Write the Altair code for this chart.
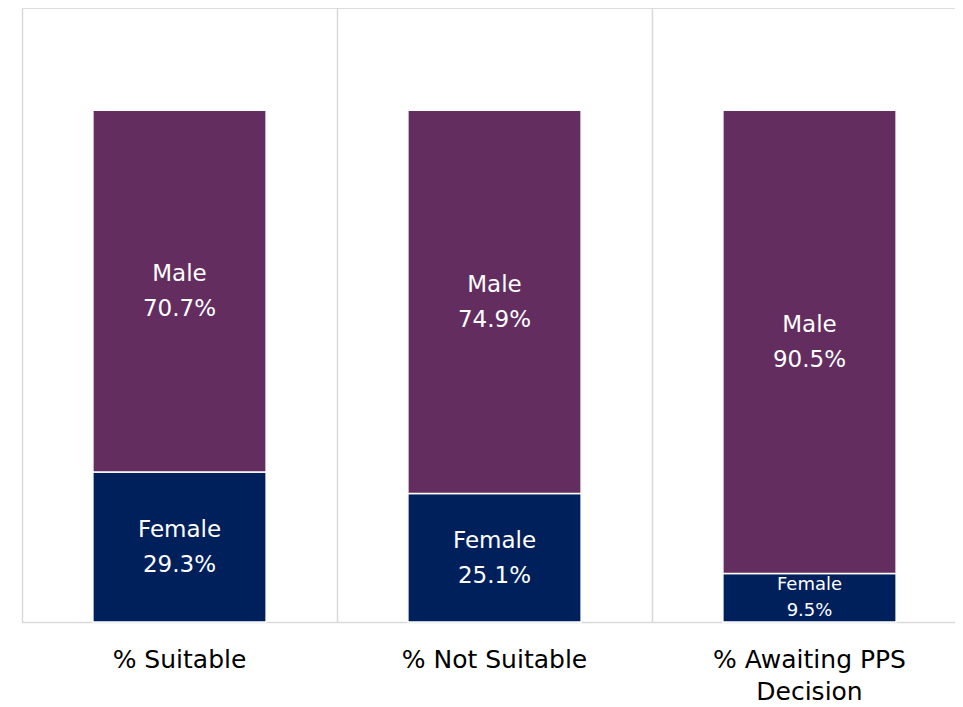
import altair as alt
import pandas as pd

categories = ["% Suitable", "% Not Suitable", "% Awaiting PPS Decision"]
female = [29.3, 25.1, 9.5]
male = [70.7, 74.9, 90.5]
genders = ["Female", "Male"]
colors = ["#00205B", "#632E5F"]

rows = []
for c, f, m in zip(categories, female, male):
    rows.append({"category": c, "gender": "Female", "value": f, "ord": 0})
    rows.append({"category": c, "gender": "Male", "value": m, "ord": 1})
df = pd.DataFrame(rows)

FONT = "DejaVu Sans"

x_enc = alt.X(
    "category:N",
    sort=categories,
    title=None,
    scale=alt.Scale(range=[0, 945], paddingInner=0, paddingOuter=0),
    axis=alt.Axis(
        labelAngle=0,
        bandPosition=0,
        grid=True,
        gridColor="#D9D9D9",
        gridWidth=1.5,
        domainColor="#D9D9D9",
        domainWidth=1.5,
        ticks=False,
        labelFont=FONT,
        labelFontSize=25,
        labelColor="#000000",
        labelPadding=25,
        labelLineHeight=32,
        labelLimit=400,
        labelOverlap=False,
        labelExpr="datum.label == '% Awaiting PPS Decision' ? ['% Awaiting PPS', 'Decision'] : datum.label",
    ),
)

base = alt.Chart(df)

bars = base.mark_bar(
    width=alt.RelativeBandSize(0.55), stroke="white", strokeWidth=1.5
).encode(
    x=x_enc,
    y=alt.Y("value:Q", stack="zero", scale=alt.Scale(domain=[0, 120]), axis=None),
    color=alt.Color("gender:N", scale=alt.Scale(domain=genders, range=colors), legend=None),
    order=alt.Order("ord:Q"),
)

stacked = base.transform_stack(
    stack="value", groupby=["category"], as_=["v0", "v1"], sort=[alt.SortField("ord")]
).transform_calculate(
    mid="(datum.v0 + datum.v1) / 2",
    label="datum.gender + '\\n' + format(datum.value, '.1f') + '%'",
)

text_big = stacked.transform_filter("datum.value >= 15").mark_text(
    font=FONT, fontSize=23, color="white", lineBreak="\n", lineHeight=35,
    baseline="middle", dy=-17
).encode(
    x=alt.X("category:N", sort=categories),
    y=alt.Y("mid:Q"),
    text="label:N",
)

text_small = stacked.transform_filter("datum.value < 15").mark_text(
    font=FONT, fontSize=18, color="white", lineBreak="\n", lineHeight=26,
    baseline="middle", dy=-13, clip=True
).encode(
    x=alt.X("category:N", sort=categories),
    y=alt.Y("mid:Q"),
    text="label:N",
)

chart = alt.layer(bars, text_big, text_small).properties(
    width=933,
    height=614,
    autosize=alt.AutoSizeParams(type="none"),
    padding={"left": 14, "top": 0, "right": 0, "bottom": 84},
).configure_view(stroke=None).configure(background="white")

chart.save("out.html", embed_options={"renderer": "svg", "actions": False})
